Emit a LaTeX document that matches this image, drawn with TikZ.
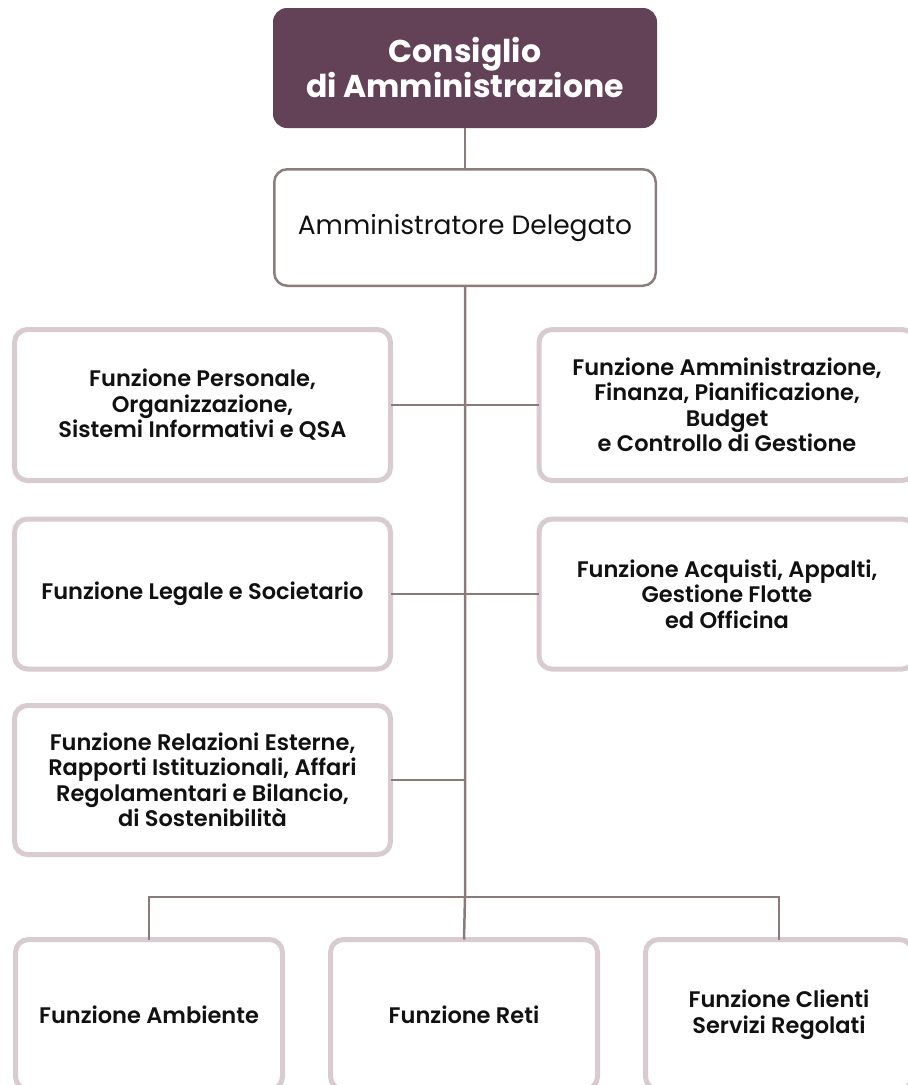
\documentclass[tikz,border=0pt]{standalone}
\usepackage{fontspec}
\setmainfont{Poppins}
\newfontfamily\semib{Poppins SemiBold}
\definecolor{plum}{RGB}{99,66,88}
\definecolor{linec}{RGB}{138,122,122}
\definecolor{adborder}{RGB}{140,125,124}
\definecolor{fborder}{RGB}{216,203,209}
\definecolor{txt}{RGB}{17,17,17}
\begin{document}
\begin{tikzpicture}[x=1pt,y=-1pt,
  topbox/.style={fill=plum, draw=none, rounded corners=14pt, minimum width=384pt, minimum height=120pt, inner sep=0pt, outer sep=0pt, align=center, text=white, font=\fontsize{31.5}{35}\selectfont\bfseries},
  adbox/.style={fill=white, draw=adborder, line width=2.5pt, rounded corners=13pt, minimum width=381.5pt, minimum height=116.5pt, inner sep=0pt, outer sep=0pt, align=center, text=txt, font=\fontsize{26.5}{30}\selectfont},
  fbox/.style={fill=white, draw=fborder, line width=5pt, rounded corners=13pt, minimum width=376pt, minimum height=151pt, inner sep=0pt, outer sep=0pt, align=center, text=txt, font=\semib\fontsize{22.5}{25.5}\selectfont},
  bbox/.style={fbox, minimum width=267pt, minimum height=150pt},
  conn/.style={draw=linec, line width=2.5pt}
]
\useasboundingbox (0,0) rectangle (908,1085);
\node[topbox] (cda) at (465,68) {Consiglio\\di Amministrazione};
\node[adbox] (ad) at (465,227.5) {Amministratore Delegato};
\node[fbox] (p1) at (202.5,405) {Funzione Personale,\\Organizzazione,\\Sistemi Informativi e QSA};
\node[fbox] (a1) at (727,405) {Funzione Amministrazione,\\Finanza, Pianificazione,\\Budget\\e Controllo di Gestione};
\node[fbox, minimum height=150pt] (l2) at (202.5,594) {Funzione Legale e Societario};
\node[fbox, minimum height=150pt] (r2) at (727,594) {Funzione Acquisti, Appalti,\\Gestione Flotte\\ed Officina};
\node[fbox, minimum height=149pt] (l3) at (202.5,780) {Funzione Relazioni Esterne,\\Rapporti Istituzionali, Affari\\Regolamentari e Bilancio,\\di Sostenibilità};
\node[bbox] (b1) at (149,1014.5) {Funzione Ambiente};
\node[bbox] (b2) at (464,1014.5) {Funzione Reti};
\node[bbox] (b3) at (779,1014.5) {Funzione Clienti\\Servizi Regolati};
\coordinate (br) at (464,897);
\coordinate (j3) at (464,780);
\draw[conn] (cda.south) -- (ad.north);
\draw[conn] (ad.south) -- (ad.south |- br) -- (b2.north);
\draw[conn] (p1.east) -- (a1.west);
\draw[conn] (l2.east) -- (r2.west);
\draw[conn] (l3.east) -- (j3);
\draw[conn] (b1.north) |- (br) -| (b3.north);
\end{tikzpicture}
\end{document}
